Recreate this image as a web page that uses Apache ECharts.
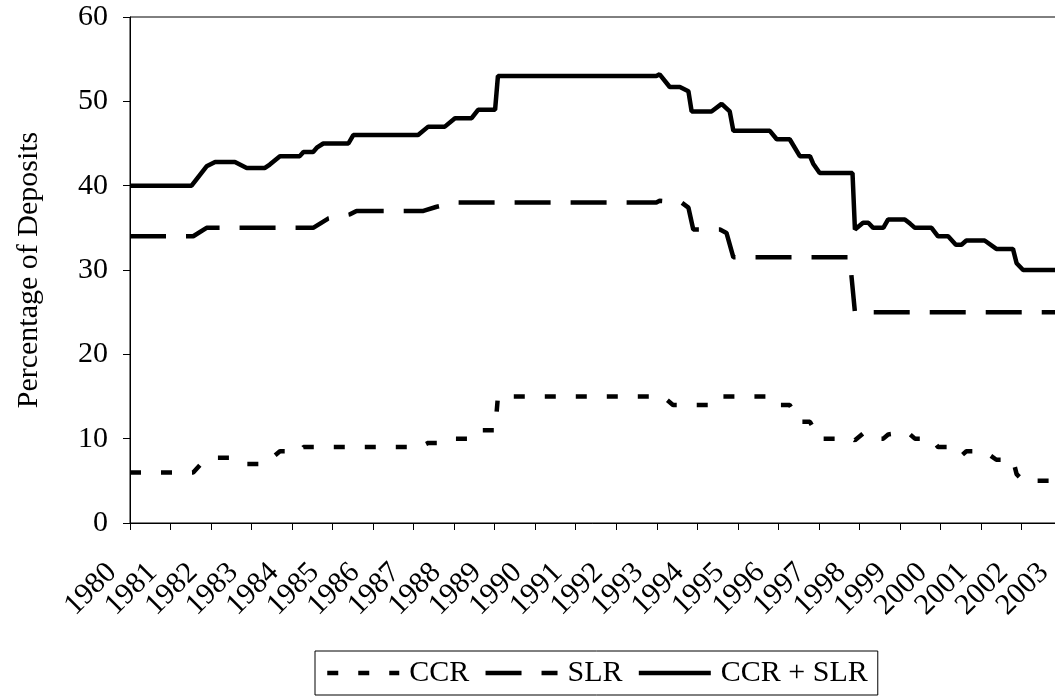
<!DOCTYPE html>
<html>
<head>
<meta charset="utf-8">
<style>
html,body{margin:0;padding:0;background:#fff;}
#chart{width:1055px;height:698px;}
</style>
<script src="https://cdn.jsdelivr.net/npm/echarts@6/dist/echarts.min.js"></script>
</head>
<body>
<div id="chart"></div>
<script>
// tick labels of the year axis
var yearLabels = ['1980', '1981', '1982', '1983', '1984', '1985', '1986', '1987', '1988', '1989', '1990', '1991',
  '1992', '1993', '1994', '1995', '1996', '1997', '1998', '1999', '2000', '2001', '2002', '2003'];

// percentage of deposits, x is the year (fractional, step points)
var ccrYears = [1980, 1981.56, 1981.75, 1982.10, 1982.59, 1982.88, 1983.33, 1983.45, 1983.70, 1984.19,
  1984.28, 1987.15, 1987.36, 1987.77, 1988.02, 1988.43, 1988.59, 1989.01, 1989.08, 1993.15,
  1993.40, 1994.45, 1994.60, 1995.82, 1995.96, 1996.28, 1996.53, 1996.78, 1997.02, 1997.83,
  1997.89, 1998.09, 1998.34, 1998.59, 1998.71, 1999.12, 1999.25, 1999.37, 1999.78, 1999.94,
  2000.19, 2000.38, 2000.52, 2000.64, 2001.09, 2001.38, 2001.79, 2001.88, 2002.04, 2003];
var ccrValues = [6, 6, 7, 7.75, 7.75, 7, 7, 7.5, 8.5, 8.5,
  9, 9, 9.5, 9.5, 10, 10, 11, 11, 15, 15,
  14, 14, 15, 15, 14, 14, 12, 12, 10, 10,
  9.8, 10.6, 10, 10, 10.5, 10.75, 10.5, 10, 10, 9,
  9, 8, 8, 8.5, 8.5, 7.5, 7.5, 5.8, 5, 5];

var slrYears = [1980, 1981.56, 1981.89, 1984.52, 1984.89, 1985.43, 1985.59, 1987.24, 1987.57, 1988.06,
  1992.99, 1993.07, 1993.61, 1993.78, 1993.90, 1994.56, 1994.72, 1994.89, 1997.76, 1997.89, 2003];
var slrValues = [34, 34, 35, 35, 36.1, 36.6, 37, 37, 37.5, 38,
  38, 38.2, 38, 37.4, 34.8, 34.8, 34.4, 31.5, 31.5, 25, 25];

var totalYears = [1980, 1981.52, 1981.89, 1982.10, 1982.59, 1982.88, 1983.33, 1983.45, 1983.70, 1984.19,
  1984.28, 1984.52, 1984.61, 1984.77, 1985.39, 1985.51, 1987.11, 1987.36, 1987.77, 1988.02,
  1988.43, 1988.59, 1989.01, 1989.08, 1992.99, 1993.07, 1993.32, 1993.57, 1993.78, 1993.86,
  1994.35, 1994.60, 1994.80, 1994.89, 1995.79, 1995.96, 1996.28, 1996.53, 1996.78, 1996.86,
  1997.02, 1997.83, 1997.89, 1998.09, 1998.22, 1998.34, 1998.59, 1998.71, 1999.12, 1999.25,
  1999.37, 1999.78, 1999.94, 2000.19, 2000.38, 2000.52, 2000.64, 2001.09, 2001.38, 2001.79,
  2001.88, 2002.04, 2003];
var totalValues = [40, 40, 42.3, 42.8, 42.8, 42.1, 42.1, 42.5, 43.5, 43.5,
  44, 44, 44.5, 45, 45, 46, 46, 47, 47, 48,
  48, 49, 49, 53, 53, 53.2, 51.7, 51.7, 51.2, 48.8,
  48.8, 49.7, 48.8, 46.5, 46.5, 45.5, 45.5, 43.5, 43.5, 42.6,
  41.5, 41.5, 34.8, 35.6, 35.6, 35, 35, 36, 36, 35.5,
  35, 35, 34, 34, 33, 33, 33.5, 33.5, 32.5, 32.5,
  30.8, 30, 30];

var seriesNames = ['CCR', 'SLR', 'CCR + SLR'];
var font = 'Liberation Serif';

function pairs(xs, ys) {
  var out = [];
  for (var i = 0; i < xs.length; i++) {
    out.push([xs[i], ys[i]]);
  }
  return out;
}

var myChart = echarts.init(document.getElementById('chart'));

var option = {
  animation: false,
  backgroundColor: '#fff',
  grid: [
    {
      left: 130, right: -7, top: 17, bottom: 175,
      outerBoundsMode: 'none',
      show: true, borderColor: '#000', borderWidth: 1
    },
    {
      // same size, nudged left: only carries the slanted year labels
      left: 112, right: 11, top: 17, bottom: 175,
      outerBoundsMode: 'none'
    }
  ],
  xAxis: [
    {
      type: 'category',
      data: yearLabels,
      boundaryGap: false,
      axisLine: {lineStyle: {color: '#000', width: 1}},
      axisTick: {interval: 0, length: 7, lineStyle: {color: '#000'}},
      splitLine: {show: false},
      axisLabel: {show: false}
    },
    {
      type: 'value',
      min: 1980, max: 2003,
      show: false,
      splitLine: {show: false}
    },
    {
      gridIndex: 1,
      type: 'category',
      data: yearLabels,
      boundaryGap: false,
      axisLine: {show: false},
      axisTick: {show: false},
      splitLine: {show: false},
      axisLabel: {
        interval: 0, rotate: 45, margin: 45,
        fontSize: 30, fontFamily: font, color: '#000'
      }
    }
  ],
  yAxis: [
    {
      type: 'value',
      min: 0, max: 60, interval: 10,
      name: 'Percentage of Deposits',
      nameLocation: 'middle',
      nameGap: 86,
      nameTextStyle: {fontSize: 30, fontFamily: font, color: '#000'},
      axisLine: {show: true, lineStyle: {color: '#000', width: 1}},
      axisTick: {show: true, length: 7, lineStyle: {color: '#000'}},
      splitLine: {show: false},
      axisLabel: {margin: 22, fontSize: 30, fontFamily: font, color: '#000'}
    },
    {
      gridIndex: 1,
      type: 'value',
      min: 0, max: 60,
      show: false,
      splitLine: {show: false}
    }
  ],
  legend: {
    left: 315, top: 651,
    padding: [7, 10],
    borderColor: '#000', borderWidth: 1,
    itemWidth: 72, itemHeight: 14, itemGap: 14,
    itemStyle: {color: 'rgba(0,0,0,0)', borderWidth: 0},
    lineStyle: {width: 4.5},
    textStyle: {fontSize: 30, fontFamily: font, color: '#000', padding: [0, 0, 0, 5]},
    data: seriesNames
  },
  series: [
    {
      name: seriesNames[0], type: 'line', symbol: 'none', xAxisIndex: 1,
      data: pairs(ccrYears, ccrValues),
      lineStyle: {color: '#000', width: 4.5, type: [11, 20], cap: 'butt'},
      itemStyle: {color: '#000'}
    },
    {
      name: seriesNames[1], type: 'line', symbol: 'none', xAxisIndex: 1,
      data: pairs(slrYears, slrValues),
      lineStyle: {color: '#000', width: 4.5, type: [36, 20], cap: 'butt'},
      itemStyle: {color: '#000'}
    },
    {
      name: seriesNames[2], type: 'line', symbol: 'none', xAxisIndex: 1,
      data: pairs(totalYears, totalValues),
      lineStyle: {color: '#000', width: 4.5, type: 'solid'},
      itemStyle: {color: '#000'}
    }
  ]
};

myChart.setOption(option);
</script>
</body>
</html>
